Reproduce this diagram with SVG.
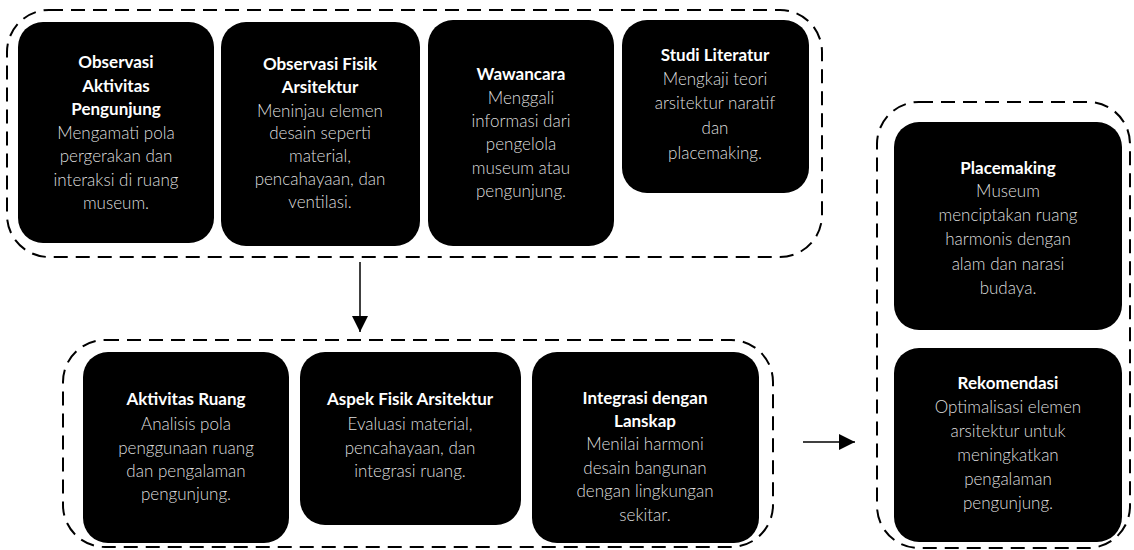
<svg xmlns="http://www.w3.org/2000/svg" width="1134" height="550" viewBox="0 0 1134 550">
<defs>
<style>
.grp{fill:none;stroke:#000;stroke-width:2;stroke-dasharray:14 8}
.box{fill:#000}
text{font-family:Lato,"Liberation Sans",sans-serif;font-size:17px;text-anchor:middle;dominant-baseline:central}
.t{fill:#fff;font-weight:700}
.b{fill:#dedede;font-weight:300}
.con{stroke:#000;stroke-width:1.5;fill:none}
</style>
<marker id="ah" viewBox="0 0 16 16" refX="16" refY="8" markerWidth="16" markerHeight="16" markerUnits="userSpaceOnUse" orient="auto">
<path d="M0,0 L16,8 L0,16 Z" fill="#000"/>
</marker>
</defs>
<rect width="1134" height="550" fill="#fff"/>
<g id="containers">
<rect class="grp" x="7" y="10" width="815" height="247" rx="42"/>
<rect class="grp" x="63" y="340" width="710" height="207" rx="42"/>
<rect class="grp" x="877" y="102" width="253" height="446" rx="42"/>
</g>
<g id="n1"><rect class="box" x="18" y="22" width="196" height="221" rx="25"/>
<text x="116" y="61" class="t">Observasi</text><text x="116" y="85" class="t">Aktivitas</text><text x="116" y="108" class="t">Pengunjung</text>
<text x="116" y="132" class="b">Mengamati pola</text><text x="116" y="155" class="b">pergerakan dan</text><text x="116" y="179" class="b">interaksi di ruang</text><text x="116" y="202" class="b">museum.</text></g>
<g id="n2"><rect class="box" x="221" y="22" width="199" height="224" rx="25"/>
<text x="320" y="63" class="t">Observasi Fisik</text><text x="320" y="86" class="t">Arsitektur</text>
<text x="320" y="110" class="b">Meninjau elemen</text><text x="320" y="132" class="b">desain seperti</text><text x="320" y="155" class="b">material,</text><text x="320" y="178" class="b">pencahayaan, dan</text><text x="320" y="201" class="b">ventilasi.</text></g>
<g id="n3"><rect class="box" x="428" y="20" width="186" height="226" rx="25"/>
<text x="521" y="73" class="t">Wawancara</text>
<text x="521" y="97" class="b">Menggali</text><text x="521" y="120" class="b">informasi dari</text><text x="521" y="143" class="b">pengelola</text><text x="521" y="167" class="b">museum atau</text><text x="521" y="190" class="b">pengunjung.</text></g>
<g id="n4"><rect class="box" x="622" y="20" width="187" height="173" rx="25"/>
<text x="715" y="54" class="t">Studi Literatur</text>
<text x="715" y="78" class="b">Mengkaji teori</text><text x="715" y="102" class="b">arsitektur naratif</text><text x="715" y="127" class="b">dan</text><text x="715" y="152" class="b">placemaking.</text></g>
<g id="n5"><rect class="box" x="83" y="352" width="206" height="191" rx="25"/>
<text x="186" y="398" class="t">Aktivitas Ruang</text>
<text x="186" y="423" class="b">Analisis pola</text><text x="186" y="447" class="b">penggunaan ruang</text><text x="186" y="470" class="b">dan pengalaman</text><text x="186" y="493" class="b">pengunjung.</text></g>
<g id="n6"><rect class="box" x="300" y="352" width="221" height="173" rx="25"/>
<text x="410" y="398" class="t">Aspek Fisik Arsitektur</text>
<text x="410" y="423" class="b">Evaluasi material,</text><text x="410" y="447" class="b">pencahayaan, dan</text><text x="410" y="470" class="b">integrasi ruang.</text></g>
<g id="n7"><rect class="box" x="532" y="352" width="227" height="191" rx="25"/>
<text x="645" y="397" class="t">Integrasi dengan</text><text x="645" y="420" class="t">Lanskap</text>
<text x="645" y="443" class="b">Menilai harmoni</text><text x="645" y="467" class="b">desain bangunan</text><text x="645" y="490" class="b">dengan lingkungan</text><text x="645" y="514" class="b">sekitar.</text></g>
<g id="n8"><rect class="box" x="894" y="122" width="228" height="208" rx="25"/>
<text x="1008" y="167" class="t">Placemaking</text>
<text x="1008" y="190" class="b">Museum</text><text x="1008" y="214" class="b">menciptakan ruang</text><text x="1008" y="238" class="b">harmonis dengan</text><text x="1008" y="263" class="b">alam dan narasi</text><text x="1008" y="287" class="b">budaya.</text></g>
<g id="n9"><rect class="box" x="894" y="348" width="228" height="194" rx="25"/>
<text x="1008" y="382" class="t">Rekomendasi</text>
<text x="1008" y="406" class="b">Optimalisasi elemen</text><text x="1008" y="430" class="b">arsitektur untuk</text><text x="1008" y="454" class="b">meningkatkan</text><text x="1008" y="478" class="b">pengalaman</text><text x="1008" y="502" class="b">pengunjung.</text></g>
<g id="connectors">
<line class="con" x1="360" y1="262" x2="360" y2="332" marker-end="url(#ah)"/>
<line class="con" x1="803" y1="442" x2="855" y2="442" marker-end="url(#ah)"/>
</g>
</svg>
